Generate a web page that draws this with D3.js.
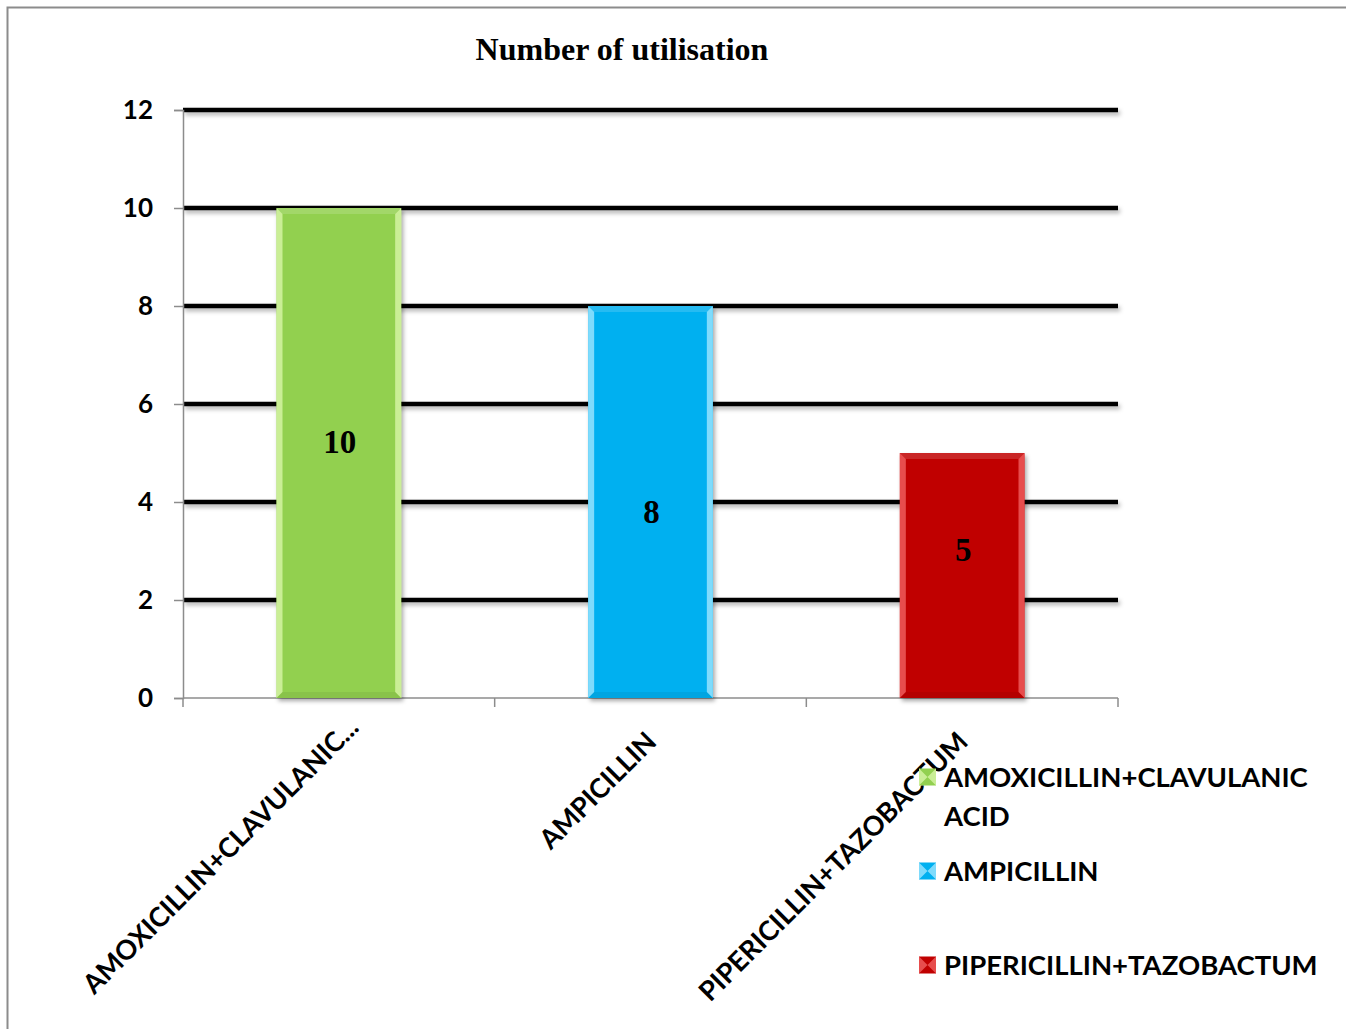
<!DOCTYPE html>
<html>
<head>
<meta charset="utf-8">
<script src="https://cdn.jsdelivr.net/npm/d3@7"></script>
<style>
  html, body { margin: 0; padding: 0; background: #fff; }
  svg { display: block; }
</style>
</head>
<body>
<svg id="chart" width="1346" height="1029"></svg>
<script>
// Antibiotic usage counts
const categories = ["AMOXICILLIN+CLAVULANIC ACID", "AMPICILLIN", "PIPERICILLIN+TAZOBACTUM"];
const axisLabels = ["AMOXICILLIN+CLAVULANIC...", "AMPICILLIN", "PIPERICILLIN+TAZOBACTUM"];
const values = [10, 8, 5];
const colors = ["#92D050", "#00B0F0", "#C00000"];
const lightColors = ["#D8F5A8", "#9FE6FF", "#F06060"];
const yTicks = [0, 2, 4, 6, 8, 10, 12];
const legendLines = [["AMOXICILLIN+CLAVULANIC", "ACID"], ["AMPICILLIN"], ["PIPERICILLIN+TAZOBACTUM"]];
const title = "Number of utilisation";

const svg = d3.select("#chart");
const W = 1346, H = 1029;
const plot = { left: 183, right: 1118, top: 110, bottom: 698 };

const defs = svg.append("defs");
// drop shadow for bars
const shadow = defs.append("filter").attr("id", "shadow")
  .attr("x", "-10%").attr("y", "-10%").attr("width", "130%").attr("height", "130%");
shadow.append("feDropShadow").attr("dx", 2).attr("dy", 3).attr("stdDeviation", 2)
  .attr("flood-color", "#000").attr("flood-opacity", 0.35);
// drop shadow for gridlines (zero-height bbox, so the region is in user space)
const lineShadow = defs.append("filter").attr("id", "lineShadow")
  .attr("filterUnits", "userSpaceOnUse")
  .attr("x", 0).attr("y", 0).attr("width", W).attr("height", H);
lineShadow.append("feDropShadow").attr("dx", 2).attr("dy", 3).attr("stdDeviation", 2)
  .attr("flood-color", "#000").attr("flood-opacity", 0.3);

// outer frame
svg.append("rect").attr("x", 7.5).attr("y", 7.5).attr("width", W + 10).attr("height", H + 10)
  .attr("fill", "#fff").attr("stroke", "#8c8c8c").attr("stroke-width", 2);

const x = d3.scaleBand().domain(categories).range([plot.left, plot.right]).paddingInner(0.6).paddingOuter(0.3);
const y = d3.scaleLinear().domain([0, 12]).range([plot.bottom, plot.top]);

// horizontal gridlines
svg.append("g").selectAll("line")
  .data(yTicks.filter(t => t > 0))
  .join("line")
  .attr("x1", plot.left).attr("x2", plot.right)
  .attr("y1", d => y(d)).attr("y2", d => y(d))
  .attr("stroke", "#000").attr("stroke-width", 4.5)
  .attr("filter", "url(#lineShadow)");

// y axis
const yAxis = svg.append("g").attr("transform", `translate(${plot.left},0)`)
  .call(d3.axisLeft(y).tickValues(yTicks).tickSize(9).tickPadding(21).tickFormat(d3.format("d")));
yAxis.select(".domain").attr("stroke", "#8c8c8c").attr("stroke-width", 1.5);
yAxis.selectAll(".tick line").attr("stroke", "#8c8c8c").attr("stroke-width", 1.5);
yAxis.selectAll(".tick text")
  .attr("font-family", "Lato, 'Open Sans', sans-serif").attr("font-weight", "bold")
  .attr("font-size", 26).attr("fill", "#000");

// x axis line and boundary ticks
const xBoundaries = d3.range(categories.length + 1).map(i => plot.left + i * x.step());
svg.append("line").attr("x1", plot.left).attr("x2", plot.right)
  .attr("y1", plot.bottom).attr("y2", plot.bottom)
  .attr("stroke", "#8c8c8c").attr("stroke-width", 1.5);
svg.append("g").selectAll("line").data(xBoundaries).join("line")
  .attr("x1", d => d).attr("x2", d => d)
  .attr("y1", plot.bottom).attr("y2", plot.bottom + 9)
  .attr("stroke", "#8c8c8c").attr("stroke-width", 1.5);

// bars with bevelled edges
const bars = svg.append("g").selectAll("g").data(values).join("g");
bars.append("rect")
  .attr("x", (d, i) => x(categories[i])).attr("width", x.bandwidth())
  .attr("y", d => y(d)).attr("height", d => y(0) - y(d))
  .attr("fill", (d, i) => colors[i])
  .attr("filter", "url(#shadow)");
const bevel = 6;
bars.each(function (d, i) {
  const g = d3.select(this);
  const x0 = x(categories[i]), x1 = x0 + x.bandwidth();
  const y0 = y(d), y1 = y(0);
  const lc = lightColors[i];
  // left edge
  g.append("path").attr("d", `M${x0},${y0}L${x0 + bevel},${y0 + bevel}L${x0 + bevel},${y1 - bevel}L${x0},${y1}Z`)
    .attr("fill", lc).attr("opacity", 0.8);
  // right edge
  g.append("path").attr("d", `M${x1},${y0}L${x1 - bevel},${y0 + bevel}L${x1 - bevel},${y1 - bevel}L${x1},${y1}Z`)
    .attr("fill", lc).attr("opacity", 0.8);
  // top edge
  g.append("path").attr("d", `M${x0},${y0}L${x1},${y0}L${x1 - bevel},${y0 + bevel}L${x0 + bevel},${y0 + bevel}Z`)
    .attr("fill", "#fff").attr("opacity", 0.15);
  // bottom edge
  g.append("path").attr("d", `M${x0},${y1}L${x1},${y1}L${x1 - bevel},${y1 - bevel}L${x0 + bevel},${y1 - bevel}Z`)
    .attr("fill", "#000").attr("opacity", 0.06);
});

// value labels inside the bars
const labelNudge = [-11, 10, -26];
svg.append("g").selectAll("text").data(values).join("text")
  .attr("x", (d, i) => x(categories[i]) + x.bandwidth() / 2 + 1)
  .attr("y", (d, i) => (y(d) + y(0)) / 2 + labelNudge[i])
  .attr("text-anchor", "middle").attr("dominant-baseline", "central")
  .attr("font-family", "'Liberation Serif', 'Times New Roman', serif")
  .attr("font-weight", "bold").attr("font-size", 33).attr("fill", "#000")
  .text(d => d);

// rotated category labels
const axisLabelShift = [20, 0, 0];
svg.append("g").selectAll("text").data(axisLabels).join("text")
  .attr("transform", (d, i) => {
    const cx = x(categories[i]) + x.bandwidth() / 2 + axisLabelShift[i] * Math.SQRT1_2;
    const cy = plot.bottom + 38 - axisLabelShift[i] * Math.SQRT1_2;
    return `translate(${cx},${cy}) rotate(-45)`;
  })
  .attr("text-anchor", "end").attr("dominant-baseline", "central")
  .attr("font-family", "Lato, 'Open Sans', sans-serif").attr("font-weight", "bold")
  .attr("font-size", 27).attr("fill", "#000")
  .text(d => d);

// title
svg.append("text").attr("x", 622).attr("y", 60).attr("text-anchor", "middle")
  .attr("font-family", "'Liberation Serif', 'Times New Roman', serif")
  .attr("font-weight", "bold").attr("font-size", 32).attr("fill", "#000")
  .text(title);

// legend
const legendY = [777, 871, 965];
const leg = svg.append("g").selectAll("g").data(categories).join("g")
  .attr("transform", (d, i) => `translate(919,${legendY[i]})`);
leg.append("rect").attr("x", 0).attr("y", -8.5).attr("width", 17).attr("height", 17)
  .attr("fill", (d, i) => colors[i]);
leg.append("path").attr("d", "M0,-8.5L8.5,0L0,8.5Z M17,-8.5L8.5,0L17,8.5Z")
  .attr("fill", (d, i) => lightColors[i]).attr("opacity", 0.8);
leg.each(function (d, i) {
  const t = d3.select(this).append("text")
    .attr("x", 25).attr("y", 10)
    .attr("font-family", "Lato, 'Open Sans', sans-serif").attr("font-weight", "bold")
    .attr("font-size", 27.5).attr("fill", "#000");
  legendLines[i].forEach((line, j) => {
    t.append("tspan").attr("x", 25).attr("dy", j === 0 ? 0 : 39).text(line);
  });
});
</script>
</body>
</html>
